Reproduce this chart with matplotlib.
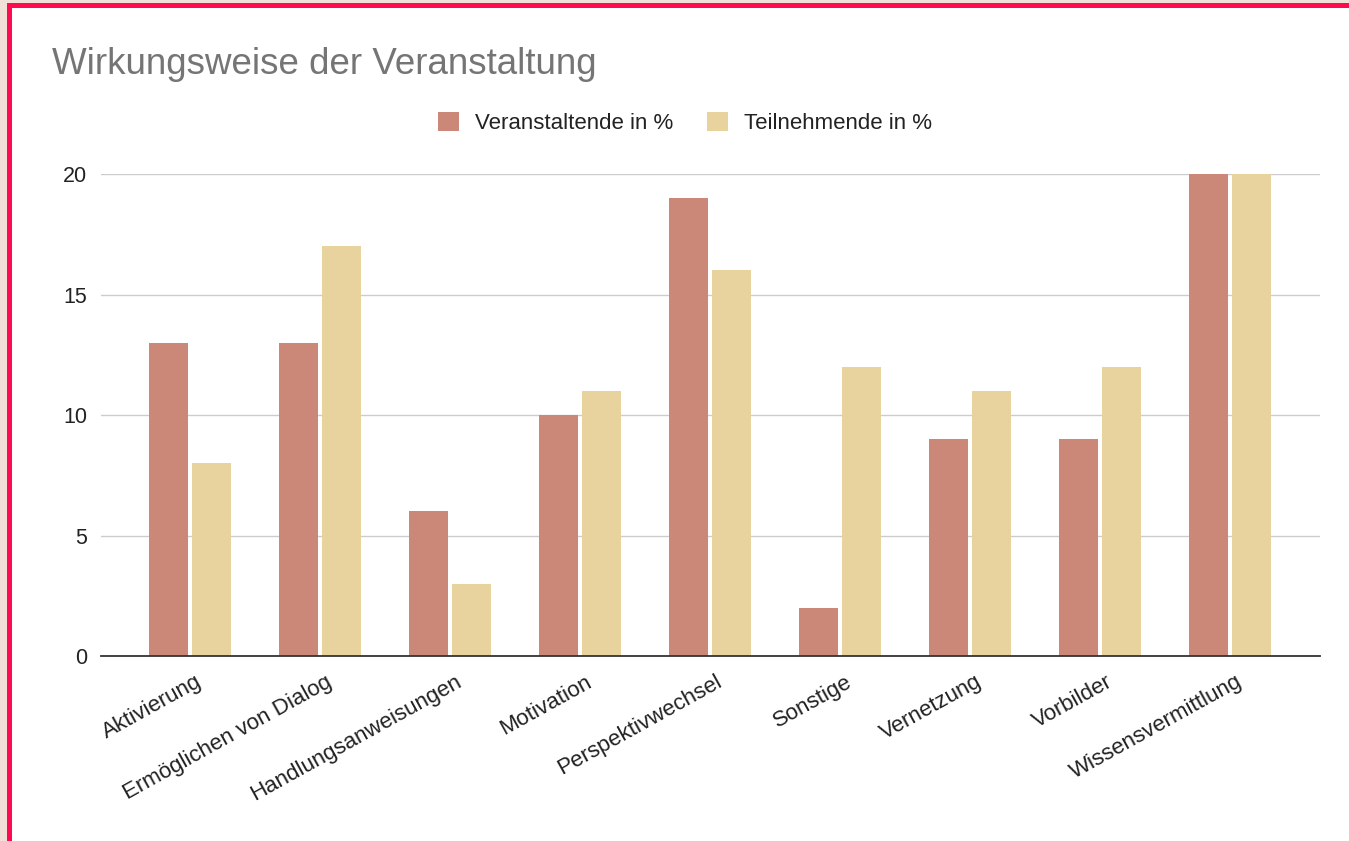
import matplotlib.pyplot as plt
import numpy as np
from matplotlib.patches import Rectangle

plt.rcParams["font.family"] = ["Liberation Sans", "DejaVu Sans"]

# data
categories = ["Aktivierung", "Ermöglichen von Dialog", "Handlungsanweisungen",
              "Motivation", "Perspektivwechsel", "Sonstige", "Vernetzung",
              "Vorbilder", "Wissensvermittlung"]
veranstaltende = [13, 13, 6, 10, 19, 2, 9, 9, 20]
teilnehmende = [8, 17, 3, 11, 16, 12, 11, 12, 20]
series_labels = ["Veranstaltende in %", "Teilnehmende in %"]
yticks = [0, 5, 10, 15, 20]

RED = "#CB8879"
SAND = "#E8D29E"

fig = plt.figure(figsize=(13.49, 8.41), dpi=100)
fig.patch.set_facecolor("white")

# screenshot frame: beige strip + red border on left/top
fig.patches.append(Rectangle((0, 0), 7 / 1349, 1, transform=fig.transFigure,
                             facecolor="#F0E0D8", edgecolor="none", zorder=0))
fig.patches.append(Rectangle((0, 1 - 3 / 841), 1, 3 / 841, transform=fig.transFigure,
                             facecolor="#F0E0D8", edgecolor="none", zorder=0))
fig.patches.append(Rectangle((7 / 1349, 0), 4.5 / 1349, 1 - 3 / 841,
                             transform=fig.transFigure,
                             facecolor="#FF0A50", edgecolor="none", zorder=1))
fig.patches.append(Rectangle((7 / 1349, 1 - 7.5 / 841), 1, 4.5 / 841,
                             transform=fig.transFigure,
                             facecolor="#FF0A50", edgecolor="none", zorder=1))

ax = fig.add_axes([101 / 1349, 1 - 656 / 841, (1320 - 101) / 1349, (656 - 174) / 841])

x = np.arange(len(categories))
w = 0.3
off = 0.165
b1 = ax.bar(x - off, veranstaltende, w, color=RED, label=series_labels[0], zorder=3)
b2 = ax.bar(x + off, teilnehmende, w, color=SAND, label=series_labels[1], zorder=3)

ax.set_xlim(-0.685, len(categories) - 1 + 0.69)
ax.set_ylim(0, 20)
ax.set_yticks(yticks)
ax.yaxis.grid(True, color="#CCCCCC", linewidth=1, zorder=0)
ax.set_axisbelow(True)
for s in ["top", "right", "left"]:
    ax.spines[s].set_visible(False)
ax.spines["bottom"].set_color("#333333")
ax.spines["bottom"].set_linewidth(1.3)
ax.spines["bottom"].set_zorder(4)

ax.tick_params(axis="y", length=0, pad=10, labelsize=15.5, labelcolor="#222222")
ax.tick_params(axis="x", length=0, pad=11, labelsize=16, labelcolor="#222222")
ax.set_xticks(x + 0.04)
ax.set_xticklabels(categories, rotation=29, ha="right", rotation_mode="anchor")

fig.text(52 / 1349, 1 - 65 / 841, "Wirkungsweise der Veranstaltung",
         fontsize=26.5, color="#757575", ha="left", va="center")

fig.legend(handles=[b1, b2], labels=series_labels, loc="center",
           bbox_to_anchor=(685 / 1349, 1 - 123 / 841), ncol=2, frameon=False,
           fontsize=16, handlelength=0.95, handleheight=0.95, handletextpad=0.72,
           columnspacing=1.53, labelcolor="#222222")

fig.savefig("out.png", dpi=100, facecolor=fig.get_facecolor())
